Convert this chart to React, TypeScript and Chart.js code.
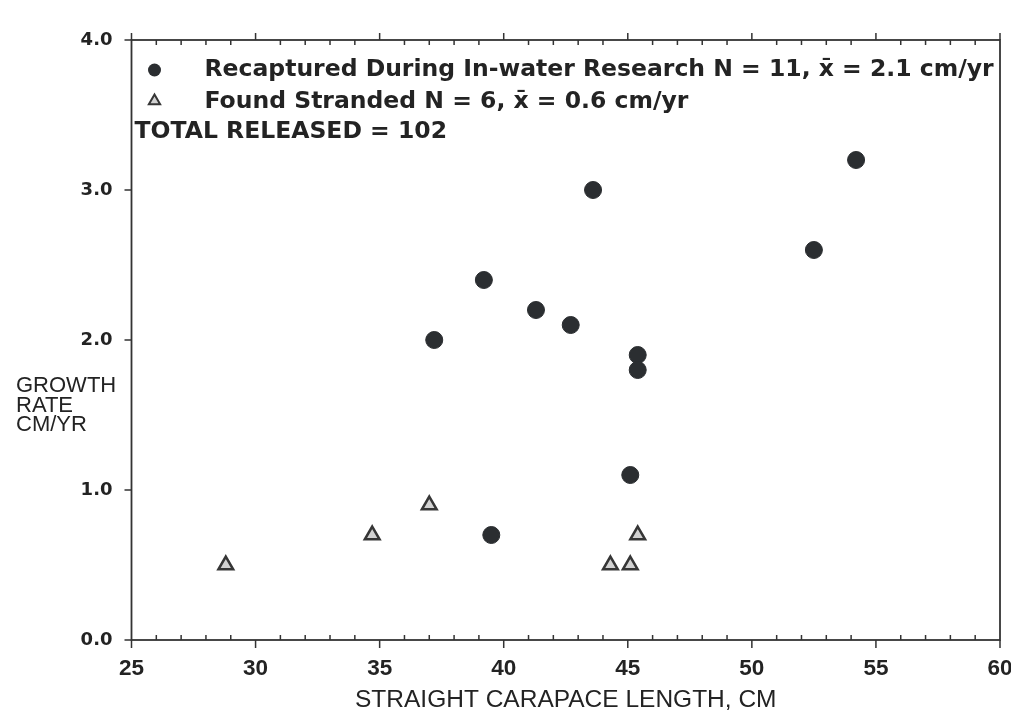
import React, { useEffect, useRef } from 'react';
import { Chart, registerables } from 'chart.js';

Chart.register(...registerables);

// ---- data ----
const recapturedLength = [37.2, 39.2, 41.3, 42.7, 43.6, 45.4, 45.4, 45.1, 39.5, 52.5, 54.2];
const recapturedRate = [2.0, 2.4, 2.2, 2.1, 3.0, 1.9, 1.8, 1.1, 0.7, 2.6, 3.2];
const strandedLength = [28.8, 34.7, 37.0, 44.3, 45.1, 45.4];
const strandedRate = [0.5, 0.7, 0.9, 0.5, 0.5, 0.7];
const seriesLabels = [
  'Recaptured During In-water Research N = 11, x\u0304 = 2.1 cm/yr',
  'Found Stranded N = 6, x\u0304 = 0.6 cm/yr',
];
const noteText = 'TOTAL RELEASED = 102';
const xTitle = 'STRAIGHT CARAPACE LENGTH, CM';
const yTitleLines = ['GROWTH', 'RATE', 'CM/YR'];
const xMin = 25;
const xMax = 60;
const xMajorStep = 5;
const xMinorStep = 1;
const yMin = 0;
const yMax = 4;
const yStep = 1;

const INK = '#232323';
const AXIS = '#333333';
const DOT = '#2b2e31';
const TRI_FILL = '#d2d2d2';

const LEGEND_FONT = 'bold 23.5px "DejaVu Sans", sans-serif';
const NOTE_FONT = 'bold 23.5px "DejaVu Sans", sans-serif';
const YTITLE_FONT = '22px "Liberation Sans", Arial, sans-serif';

function toPoints(xs: number[], ys: number[]) {
  return xs.map((x, i) => ({ x, y: ys[i] }));
}

const axesPlugin = {
  id: 'axesFrame',
  beforeDatasetsDraw(chart: any) {
    const { ctx, chartArea, scales } = chart;
    const { left, right, top, bottom } = chartArea;
    ctx.save();
    ctx.strokeStyle = AXIS;
    ctx.lineWidth = 1.8;
    ctx.strokeRect(left, top, right - left, bottom - top);
    ctx.lineWidth = 1.5;
    ctx.beginPath();
    for (let v = xMin; v <= xMax + 1e-9; v += xMinorStep) {
      const px = scales.x.getPixelForValue(v);
      if (v % xMajorStep === 0) {
        ctx.moveTo(px, bottom);
        ctx.lineTo(px, bottom + 8);
        ctx.moveTo(px, top);
        ctx.lineTo(px, top - 7);
      } else {
        ctx.moveTo(px, bottom);
        ctx.lineTo(px, bottom - 5);
        ctx.moveTo(px, top);
        ctx.lineTo(px, top + 5);
      }
    }
    for (let v = yMin; v <= yMax + 1e-9; v += yStep) {
      const py = scales.y.getPixelForValue(v);
      ctx.moveTo(left, py);
      ctx.lineTo(left - 7, py);
    }
    ctx.stroke();
    ctx.restore();
  },
  afterDraw(chart: any) {
    const { ctx, chartArea } = chart;
    const { left, top } = chartArea;
    ctx.save();
    // legend markers, drawn with the datasets' own styles
    const ds0 = chart.data.datasets[0];
    const ds1 = chart.data.datasets[1];
    const mx = left + 23;
    ctx.fillStyle = ds0.backgroundColor;
    ctx.beginPath();
    ctx.arc(mx, top + 30, 6.5, 0, Math.PI * 2);
    ctx.fill();
    const r = 6.5;
    const ty = top + 61;
    ctx.beginPath();
    for (let k = 0; k < 3; k++) {
      const a = (k * 2 * Math.PI) / 3;
      const X = mx + Math.sin(a) * r;
      const Y = ty - Math.cos(a) * r;
      if (k === 0) ctx.moveTo(X, Y);
      else ctx.lineTo(X, Y);
    }
    ctx.closePath();
    ctx.fillStyle = ds1.backgroundColor;
    ctx.fill();
    ctx.strokeStyle = ds1.borderColor;
    ctx.lineWidth = 2;
    ctx.stroke();
    // legend text
    ctx.fillStyle = INK;
    ctx.textAlign = 'left';
    ctx.textBaseline = 'alphabetic';
    ctx.font = LEGEND_FONT;
    ctx.fillText(ds0.label, left + 73, top + 35.6);
    ctx.fillText(ds1.label, left + 73, top + 67.6);
    ctx.font = NOTE_FONT;
    ctx.fillText(noteText, left + 3, top + 97.7);
    // y-axis title (horizontal, at the left)
    ctx.font = YTITLE_FONT;
    yTitleLines.forEach((line, i) => {
      ctx.fillText(line, 16, 392 + i * 19.5);
    });
    ctx.restore();
  },
};

export default function App() {
  const ref = useRef<HTMLCanvasElement>(null);
  useEffect(() => {
    if (!ref.current) return;
    const chart = new Chart(ref.current, {
      type: 'scatter',
      data: {
        datasets: [
          {
            label: seriesLabels[0],
            data: toPoints(recapturedLength, recapturedRate),
            pointStyle: 'circle',
            pointRadius: 8.5,
            backgroundColor: DOT,
            borderColor: DOT,
            borderWidth: 1,
          },
          {
            label: seriesLabels[1],
            data: toPoints(strandedLength, strandedRate),
            pointStyle: 'triangle',
            pointRadius: 8.5,
            backgroundColor: TRI_FILL,
            borderColor: '#363636',
            borderWidth: 2.5,
          },
        ],
      },
      options: {
        responsive: false,
        animation: false,
        devicePixelRatio: 1,
        layout: { padding: { left: 0, top: 40, right: 9.5, bottom: 0 } },
        plugins: {
          legend: { display: false },
          tooltip: { enabled: false },
        },
        scales: {
          x: {
            type: 'linear',
            position: 'bottom',
            min: xMin,
            max: xMax,
            afterFit: (s: any) => {
              s.height = 83;
              s.paddingLeft = 0;
              s.paddingRight = 0;
            },
            ticks: {
              stepSize: xMinorStep,
              autoSkip: false,
              maxRotation: 0,
              minRotation: 0,
              padding: 15,
              color: INK,
              font: { family: '"Liberation Sans", Arial, sans-serif', size: 22.5, weight: 'bold' },
              callback: (v: any) => (Number(v) % xMajorStep === 0 ? String(v) : ''),
            },
            grid: { display: false, drawTicks: false },
            border: { display: false },
            title: {
              display: true,
              text: xTitle,
              color: INK,
              font: { family: '"Liberation Sans", Arial, sans-serif', size: 24.5 },
              padding: { top: 0, bottom: 8 },
            },
          },
          y: {
            type: 'linear',
            min: yMin,
            max: yMax,
            afterFit: (s: any) => {
              s.width = 131.5;
              s.paddingTop = 0;
              s.paddingBottom = 0;
            },
            ticks: {
              stepSize: yStep,
              padding: 19,
              color: INK,
              font: { family: '"DejaVu Sans", sans-serif', size: 18, weight: 'bold' },
              callback: (v: any) => Number(v).toFixed(1),
            },
            grid: { display: false, drawTicks: false },
            border: { display: false },
          },
        },
      },
      plugins: [axesPlugin],
    } as any);
    return () => chart.destroy();
  }, []);
  return (
    <div style={{ position: 'absolute', left: 0, top: 0, width: 1011, height: 723, background: '#ffffff' }}>
      <canvas ref={ref} width={1011} height={723} style={{ display: 'block', width: 1011, height: 723 }} />
    </div>
  );
}
